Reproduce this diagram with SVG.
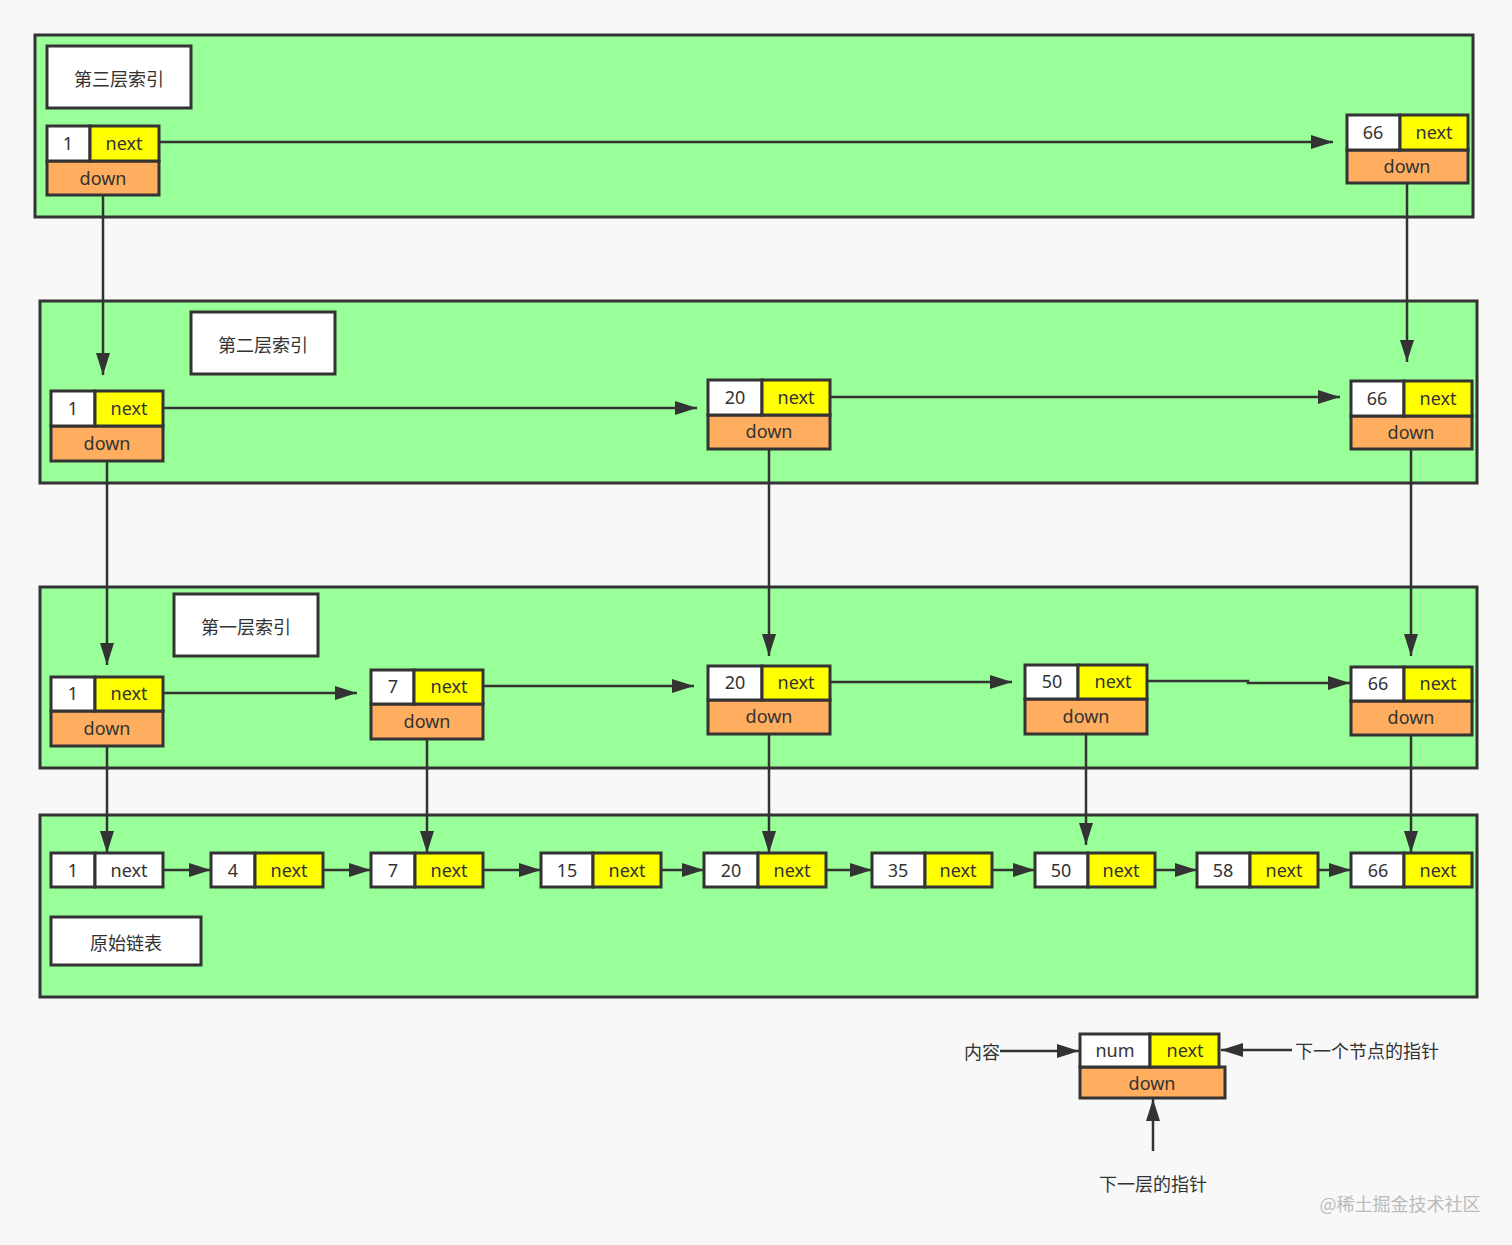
<svg xmlns="http://www.w3.org/2000/svg" width="1512" height="1245" viewBox="0 0 1512 1245">
<defs>
<marker id="ah" markerUnits="userSpaceOnUse" markerWidth="24" markerHeight="16" refX="22" refY="7" orient="auto">
<path d="M0,0 L22,7 L0,14 z" fill="#333"/>
</marker>
<style>
.panel{fill:#99ff99;stroke:#333;stroke-width:3}
.lbl{fill:#fff;stroke:#333;stroke-width:3}
.v{fill:#fff;stroke:#333;stroke-width:3}
.n{fill:#ffff00;stroke:#333;stroke-width:3}
.d{fill:#ffad5e;stroke:#333;stroke-width:3}
text{font-family:"Noto Sans","Noto Sans CJK SC",sans-serif;fill:#333;text-anchor:middle;dominant-baseline:central}
.t{font-size:18px}
.c{font-family:"Noto Sans CJK SC",sans-serif;font-size:18px}
.e{stroke:#333;stroke-width:2.5;fill:none;marker-end:url(#ah)}
</style>
</defs>
<rect width="1512" height="1245" fill="#f8f8f8"/>
<g id="panels">
<rect class="panel" x="35" y="35" width="1438" height="182"/>
<rect class="panel" x="40" y="301" width="1437" height="182"/>
<rect class="panel" x="40" y="587" width="1437" height="181"/>
<rect class="panel" x="40" y="815" width="1437" height="182"/>
</g>
<g id="labels">
<g id="lbl3"><rect class="lbl" x="47" y="46" width="144" height="62"/><text class="c" x="119" y="78">第三层索引</text></g>
<g id="lbl2"><rect class="lbl" x="191" y="312" width="144" height="62"/><text class="c" x="263" y="344">第二层索引</text></g>
<g id="lbl1"><rect class="lbl" x="174" y="594" width="144" height="62"/><text class="c" x="246" y="626">第一层索引</text></g>
<g id="lbl0"><rect class="lbl" x="51" y="917" width="150" height="48"/><text class="c" x="126" y="942">原始链表</text></g>
</g>
<g id="connectors">
<path class="e" d="M159,142 H1333"/>
<path class="e" d="M103,195 V375"/>
<path class="e" d="M1407,183 V362"/>
<path class="e" d="M163,408 H697"/>
<path class="e" d="M830,397 H1340"/>
<path class="e" d="M107,461 V665"/>
<path class="e" d="M769,449 V656"/>
<path class="e" d="M1411,449 V656"/>
<path class="e" d="M163,693 H357"/>
<path class="e" d="M483,686 H694"/>
<path class="e" d="M830,682 H1012"/>
<path class="e" d="M1147,681 H1248 V683 H1350"/>
<path class="e" d="M107,746 V853"/>
<path class="e" d="M427,739 V853"/>
<path class="e" d="M769,734 V853"/>
<path class="e" d="M1086,734 V845"/>
<path class="e" d="M1411,735 V853"/>
<path class="e" d="M163,870 H211"/>
<path class="e" d="M323,870 H371"/>
<path class="e" d="M483,870 H541"/>
<path class="e" d="M661,870 H704"/>
<path class="e" d="M826,870 H872"/>
<path class="e" d="M992,870 H1035"/>
<path class="e" d="M1155,870 H1197"/>
<path class="e" d="M1318,870 H1351"/>
<path class="e" d="M1000,1051 H1079"/>
<path class="e" d="M1292,1050 H1221"/>
<path class="e" d="M1153,1151 V1099"/>
</g>
<g id="L3n1"><rect class="d" x="47" y="161" width="112" height="34"/><rect class="v" x="47" y="126" width="43" height="35"/><rect class="n" x="90" y="126" width="69" height="35"/><text class="t" x="68" y="143">1</text><text class="t" x="124" y="143">next</text><text class="t" x="103" y="178">down</text></g>
<g id="L3n66"><rect class="d" x="1347" y="150" width="121" height="33"/><rect class="v" x="1347" y="115" width="53" height="35"/><rect class="n" x="1400" y="115" width="68" height="35"/><text class="t" x="1373" y="132">66</text><text class="t" x="1434" y="132">next</text><text class="t" x="1407" y="166">down</text></g>
<g id="L2n1"><rect class="d" x="51" y="426" width="112" height="35"/><rect class="v" x="51" y="391" width="44" height="35"/><rect class="n" x="95" y="391" width="68" height="35"/><text class="t" x="73" y="408">1</text><text class="t" x="129" y="408">next</text><text class="t" x="107" y="443">down</text></g>
<g id="L2n20"><rect class="d" x="708" y="415" width="122" height="34"/><rect class="v" x="708" y="380" width="54" height="35"/><rect class="n" x="762" y="380" width="68" height="35"/><text class="t" x="735" y="397">20</text><text class="t" x="796" y="397">next</text><text class="t" x="769" y="431">down</text></g>
<g id="L2n66"><rect class="d" x="1351" y="416" width="121" height="33"/><rect class="v" x="1351" y="381" width="53" height="35"/><rect class="n" x="1404" y="381" width="68" height="35"/><text class="t" x="1377" y="398">66</text><text class="t" x="1438" y="398">next</text><text class="t" x="1411" y="432">down</text></g>
<g id="L1n1"><rect class="d" x="51" y="711" width="112" height="35"/><rect class="v" x="51" y="677" width="44" height="34"/><rect class="n" x="95" y="677" width="68" height="34"/><text class="t" x="73" y="693">1</text><text class="t" x="129" y="693">next</text><text class="t" x="107" y="728">down</text></g>
<g id="L1n7"><rect class="d" x="371" y="704" width="112" height="35"/><rect class="v" x="371" y="670" width="43" height="34"/><rect class="n" x="414" y="670" width="69" height="34"/><text class="t" x="393" y="686">7</text><text class="t" x="449" y="686">next</text><text class="t" x="427" y="721">down</text></g>
<g id="L1n20"><rect class="d" x="708" y="700" width="122" height="34"/><rect class="v" x="708" y="666" width="54" height="34"/><rect class="n" x="762" y="666" width="68" height="34"/><text class="t" x="735" y="682">20</text><text class="t" x="796" y="682">next</text><text class="t" x="769" y="716">down</text></g>
<g id="L1n50"><rect class="d" x="1025" y="699" width="122" height="35"/><rect class="v" x="1025" y="665" width="53" height="34"/><rect class="n" x="1078" y="665" width="69" height="34"/><text class="t" x="1052" y="681">50</text><text class="t" x="1113" y="681">next</text><text class="t" x="1086" y="716">down</text></g>
<g id="L1n66"><rect class="d" x="1351" y="701" width="121" height="34"/><rect class="v" x="1351" y="667" width="53" height="34"/><rect class="n" x="1404" y="667" width="68" height="34"/><text class="t" x="1378" y="683">66</text><text class="t" x="1438" y="683">next</text><text class="t" x="1411" y="717">down</text></g>
<g id="L0n1"><rect class="v" x="51" y="853" width="44" height="34"/><rect class="v" x="95" y="853" width="68" height="34"/><text class="t" x="73" y="870">1</text><text class="t" x="129" y="870">next</text></g>
<g id="L0n4"><rect class="v" x="211" y="853" width="44" height="34"/><rect class="n" x="255" y="853" width="68" height="34"/><text class="t" x="233" y="870">4</text><text class="t" x="289" y="870">next</text></g>
<g id="L0n7"><rect class="v" x="371" y="853" width="44" height="34"/><rect class="n" x="415" y="853" width="68" height="34"/><text class="t" x="393" y="870">7</text><text class="t" x="449" y="870">next</text></g>
<g id="L0n15"><rect class="v" x="541" y="853" width="52" height="34"/><rect class="n" x="593" y="853" width="68" height="34"/><text class="t" x="567" y="870">15</text><text class="t" x="627" y="870">next</text></g>
<g id="L0n20"><rect class="v" x="704" y="853" width="54" height="34"/><rect class="n" x="758" y="853" width="68" height="34"/><text class="t" x="731" y="870">20</text><text class="t" x="792" y="870">next</text></g>
<g id="L0n35"><rect class="v" x="872" y="853" width="53" height="34"/><rect class="n" x="925" y="853" width="67" height="34"/><text class="t" x="898" y="870">35</text><text class="t" x="958" y="870">next</text></g>
<g id="L0n50"><rect class="v" x="1035" y="853" width="53" height="34"/><rect class="n" x="1088" y="853" width="67" height="34"/><text class="t" x="1061" y="870">50</text><text class="t" x="1121" y="870">next</text></g>
<g id="L0n58"><rect class="v" x="1197" y="853" width="53" height="34"/><rect class="n" x="1250" y="853" width="68" height="34"/><text class="t" x="1223" y="870">58</text><text class="t" x="1284" y="870">next</text></g>
<g id="L0n66"><rect class="v" x="1351" y="853" width="53" height="34"/><rect class="n" x="1404" y="853" width="68" height="34"/><text class="t" x="1378" y="870">66</text><text class="t" x="1438" y="870">next</text></g>
<g id="legend"><rect class="d" x="1080" y="1067" width="145" height="31"/><rect class="v" x="1080" y="1034" width="70" height="33"/><rect class="n" x="1150" y="1034" width="69" height="33"/><text class="t" x="1115" y="1050">num</text><text class="t" x="1185" y="1050">next</text><text class="t" x="1152" y="1083">down</text></g>
<g id="legend-labels">
<text class="c" x="982" y="1051">内容</text>
<text class="c" x="1367" y="1050">下一个节点的指针</text>
<text class="c" x="1153" y="1183">下一层的指针</text>
</g>
<text x="1400" y="1203" style="font-family:'Noto Sans CJK SC',sans-serif;font-size:18px;fill:#bbb">@稀土掘金技术社区</text>
</svg>
